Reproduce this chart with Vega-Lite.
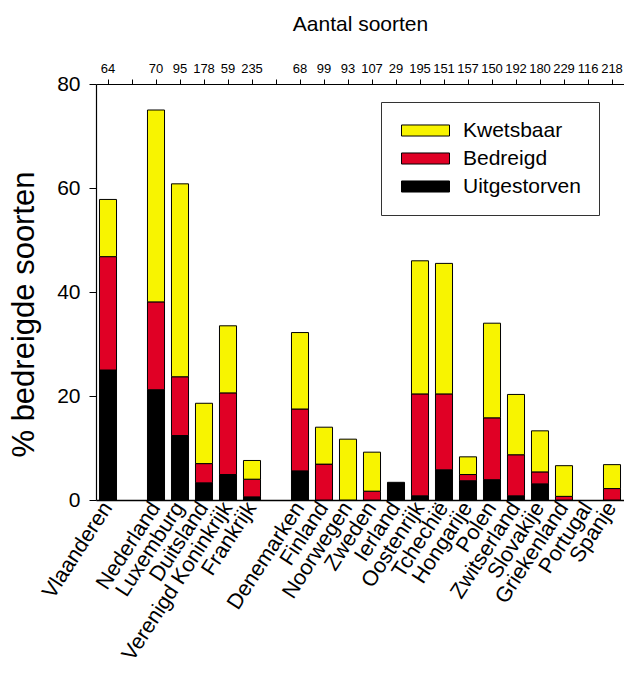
{
  "$schema": "https://vega.github.io/schema/vega-lite/v6.json",
  "autosize": "none",
  "width": 528,
  "height": 416,
  "padding": {"left": 96, "top": 84, "right": 0, "bottom": 173},
  "background": "white",
  "config": {
    "view": {"stroke": null},
    "font": "Liberation Sans",
    "axis": {"labelFont": "Liberation Sans", "titleFont": "Liberation Sans", "labelColor": "black", "titleColor": "black", "domainColor": "black", "tickColor": "black", "titleFontWeight": "normal", "grid": false},
    "legend": {"labelFont": "Liberation Sans"}
  },
  "datasets": {
    "bars": [
      {"land": "Vlaanderen", "cat": "Uitgestorven", "laag": 1, "pct": 25.0},
      {"land": "Vlaanderen", "cat": "Bedreigd", "laag": 2, "pct": 21.8},
      {"land": "Vlaanderen", "cat": "Kwetsbaar", "laag": 3, "pct": 11.0},
      {"land": "Nederland", "cat": "Uitgestorven", "laag": 1, "pct": 21.2},
      {"land": "Nederland", "cat": "Bedreigd", "laag": 2, "pct": 16.9},
      {"land": "Nederland", "cat": "Kwetsbaar", "laag": 3, "pct": 36.9},
      {"land": "Luxemburg", "cat": "Uitgestorven", "laag": 1, "pct": 12.4},
      {"land": "Luxemburg", "cat": "Bedreigd", "laag": 2, "pct": 11.3},
      {"land": "Luxemburg", "cat": "Kwetsbaar", "laag": 3, "pct": 37.1},
      {"land": "Duitsland", "cat": "Uitgestorven", "laag": 1, "pct": 3.3},
      {"land": "Duitsland", "cat": "Bedreigd", "laag": 2, "pct": 3.7},
      {"land": "Duitsland", "cat": "Kwetsbaar", "laag": 3, "pct": 11.6},
      {"land": "Verenigd Koninkrijk", "cat": "Uitgestorven", "laag": 1, "pct": 4.9},
      {"land": "Verenigd Koninkrijk", "cat": "Bedreigd", "laag": 2, "pct": 15.7},
      {"land": "Verenigd Koninkrijk", "cat": "Kwetsbaar", "laag": 3, "pct": 12.9},
      {"land": "Frankrijk", "cat": "Uitgestorven", "laag": 1, "pct": 0.6},
      {"land": "Frankrijk", "cat": "Bedreigd", "laag": 2, "pct": 3.4},
      {"land": "Frankrijk", "cat": "Kwetsbaar", "laag": 3, "pct": 3.6},
      {"land": "Denemarken", "cat": "Uitgestorven", "laag": 1, "pct": 5.6},
      {"land": "Denemarken", "cat": "Bedreigd", "laag": 2, "pct": 11.9},
      {"land": "Denemarken", "cat": "Kwetsbaar", "laag": 3, "pct": 14.7},
      {"land": "Finland", "cat": "Bedreigd", "laag": 2, "pct": 6.9},
      {"land": "Finland", "cat": "Kwetsbaar", "laag": 3, "pct": 7.1},
      {"land": "Noorwegen", "cat": "Kwetsbaar", "laag": 3, "pct": 11.7},
      {"land": "Zweden", "cat": "Bedreigd", "laag": 2, "pct": 1.7},
      {"land": "Zweden", "cat": "Kwetsbaar", "laag": 3, "pct": 7.5},
      {"land": "Ierland", "cat": "Uitgestorven", "laag": 1, "pct": 3.4},
      {"land": "Oostenrijk", "cat": "Uitgestorven", "laag": 1, "pct": 0.8},
      {"land": "Oostenrijk", "cat": "Bedreigd", "laag": 2, "pct": 19.6},
      {"land": "Oostenrijk", "cat": "Kwetsbaar", "laag": 3, "pct": 25.6},
      {"land": "Tchechië", "cat": "Uitgestorven", "laag": 1, "pct": 5.8},
      {"land": "Tchechië", "cat": "Bedreigd", "laag": 2, "pct": 14.6},
      {"land": "Tchechië", "cat": "Kwetsbaar", "laag": 3, "pct": 25.1},
      {"land": "Hongarije", "cat": "Uitgestorven", "laag": 1, "pct": 3.7},
      {"land": "Hongarije", "cat": "Bedreigd", "laag": 2, "pct": 1.2},
      {"land": "Hongarije", "cat": "Kwetsbaar", "laag": 3, "pct": 3.4},
      {"land": "Polen", "cat": "Uitgestorven", "laag": 1, "pct": 3.9},
      {"land": "Polen", "cat": "Bedreigd", "laag": 2, "pct": 11.9},
      {"land": "Polen", "cat": "Kwetsbaar", "laag": 3, "pct": 18.2},
      {"land": "Zwitserland", "cat": "Uitgestorven", "laag": 1, "pct": 0.8},
      {"land": "Zwitserland", "cat": "Bedreigd", "laag": 2, "pct": 7.9},
      {"land": "Zwitserland", "cat": "Kwetsbaar", "laag": 3, "pct": 11.6},
      {"land": "Slovakije", "cat": "Uitgestorven", "laag": 1, "pct": 3.1},
      {"land": "Slovakije", "cat": "Bedreigd", "laag": 2, "pct": 2.3},
      {"land": "Slovakije", "cat": "Kwetsbaar", "laag": 3, "pct": 7.9},
      {"land": "Griekenland", "cat": "Bedreigd", "laag": 2, "pct": 0.7},
      {"land": "Griekenland", "cat": "Kwetsbaar", "laag": 3, "pct": 5.9},
      {"land": "Spanje", "cat": "Bedreigd", "laag": 2, "pct": 2.2},
      {"land": "Spanje", "cat": "Kwetsbaar", "laag": 3, "pct": 4.6}
    ],
    "aantallen": [
      {"land": "Vlaanderen", "n": 64},
      {"land": "Nederland", "n": 70},
      {"land": "Luxemburg", "n": 95},
      {"land": "Duitsland", "n": 178},
      {"land": "Verenigd Koninkrijk", "n": 59},
      {"land": "Frankrijk", "n": 235},
      {"land": "Denemarken", "n": 68},
      {"land": "Finland", "n": 99},
      {"land": "Noorwegen", "n": 93},
      {"land": "Zweden", "n": 107},
      {"land": "Ierland", "n": 29},
      {"land": "Oostenrijk", "n": 195},
      {"land": "Tchechië", "n": 151},
      {"land": "Hongarije", "n": 157},
      {"land": "Polen", "n": 150},
      {"land": "Zwitserland", "n": 192},
      {"land": "Slovakije", "n": 180},
      {"land": "Griekenland", "n": 229},
      {"land": "Portugal", "n": 116},
      {"land": "Spanje", "n": 218}
    ]
  },
  "resolve": {"axis": {"x": "independent"}},
  "layer": [
    {
      "data": {"name": "bars"},
      "mark": {"type": "bar", "stroke": "black", "strokeWidth": 1},
      "encoding": {
        "x": {
          "field": "land", "type": "nominal",
          "scale": {
            "domain": ["Vlaanderen", " ", "Nederland", "Luxemburg", "Duitsland", "Verenigd Koninkrijk", "Frankrijk", "  ", "Denemarken", "Finland", "Noorwegen", "Zweden", "Ierland", "Oostenrijk", "Tchechië", "Hongarije", "Polen", "Zwitserland", "Slovakije", "Griekenland", "Portugal", "Spanje"],
            "paddingInner": 0.29, "paddingOuter": 0.145
          },
          "axis": {"orient": "bottom", "title": null, "ticks": false, "labelAngle": -57, "labelFontSize": 21.5, "labelPadding": 4, "labelLimit": 400, "domainWidth": 1.5}
        },
        "y": {
          "field": "pct", "type": "quantitative", "stack": "zero",
          "scale": {"domain": [0, 80], "nice": false},
          "axis": {"values": [0, 20, 40, 60, 80], "title": "% bedreigde soorten", "titleFontSize": 31, "titleAngle": -90, "titleAlign": "center", "titleBaseline": "alphabetic", "titleX": -63, "titleY": 230, "labelFontSize": 21, "tickSize": 7, "labelPadding": 9, "domainWidth": 1.2}
        },
        "color": {
          "field": "cat", "type": "nominal",
          "scale": {"domain": ["Kwetsbaar", "Bedreigd", "Uitgestorven"], "range": ["#F8F400", "#E00025", "#000000"]},
          "legend": {
            "title": null, "orient": "none", "legendX": 285, "legendY": 18,
            "padding": 18, "strokeColor": "#333333",
            "symbolType": "M-1,-0.69H5V0.69H-1Z", "symbolSize": 256,
            "symbolStrokeColor": "black", "symbolStrokeWidth": 1,
            "labelFontSize": 21, "labelOffset": 43, "rowPadding": 6,
            "labelColor": "black"
          }
        },
        "order": {"field": "laag", "type": "quantitative"}
      }
    },
    {
      "data": {"name": "aantallen"},
      "mark": {"type": "text", "fontSize": 13, "baseline": "alphabetic", "dy": -11, "color": "black"},
      "encoding": {
        "x": {
          "field": "land", "type": "nominal",
          "axis": {"orient": "top", "labels": false, "tickSize": 5, "title": "Aantal soorten", "titleFontSize": 21, "titlePadding": 44, "domainWidth": 1.2}
        },
        "y": {"datum": 80, "type": "quantitative"},
        "text": {"field": "n", "type": "quantitative"}
      }
    }
  ]
}
